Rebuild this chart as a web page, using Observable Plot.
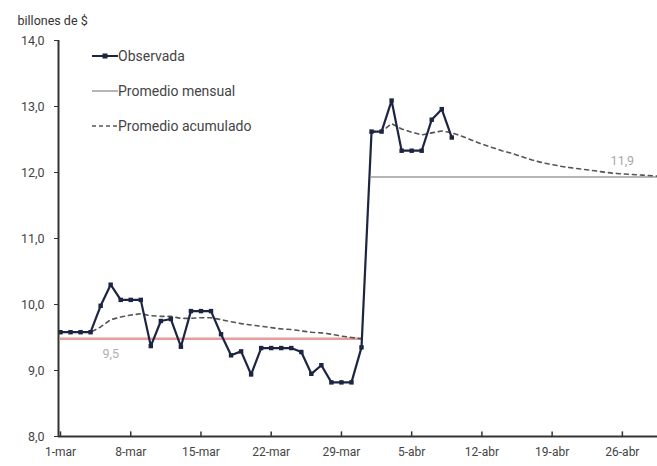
<!DOCTYPE html>
<html>
<head>
<meta charset="utf-8">
<script src="https://cdn.jsdelivr.net/npm/d3@7"></script>
<script src="https://cdn.jsdelivr.net/npm/@observablehq/plot@0.6"></script>
<style>
  html, body { margin: 0; padding: 0; background: #fff; }
  #wrap { position: relative; width: 657px; height: 466px; font-family: Roboto, "Open Sans", sans-serif; }
  .leg { position: absolute; left: 92px; display: flex; align-items: center; font-size: 14px; color: #444; }
  .leg svg { margin-right: 0px; }
</style>
</head>
<body>
<div id="wrap"></div>
<script>
// ---- data ----
const yearStart = [2021, 2, 1]; // 1-mar
const observedMar = [9.58, 9.58, 9.58, 9.58, 9.98, 10.30, 10.07, 10.07, 10.07, 9.37,
                     9.75, 9.78, 9.36, 9.90, 9.90, 9.90, 9.55, 9.23, 9.29, 8.94,
                     9.34, 9.34, 9.34, 9.34, 9.28, 8.95, 9.08, 8.82, 8.82, 8.82, 9.35];
const observedApr = [12.62, 12.62, 13.09, 12.33, 12.33, 12.33, 12.80, 12.96, 12.53];
const cumMar = [9.58, 9.58, 9.58, 9.58, 9.66, 9.77, 9.81, 9.84, 9.86, 9.83,
                9.82, 9.82, 9.79, 9.79, 9.80, 9.80, 9.77, 9.74, 9.71, 9.69,
                9.67, 9.65, 9.63, 9.62, 9.60, 9.58, 9.57, 9.55, 9.52, 9.50, 9.48];
const cumApr = [12.62, 12.62, 12.74, 12.66, 12.61, 12.57, 12.60, 12.63, 12.60, 12.55,
                12.49, 12.43, 12.38, 12.33, 12.29, 12.24, 12.19, 12.15, 12.12, 12.09,
                12.07, 12.05, 12.03, 12.01, 11.99, 11.98, 11.97, 11.96, 11.95, 11.94];
const monthlyMar = 9.48;
const monthlyApr = 11.93;
const monthlyLabels = ["9,5", "11,9"];
const yTicks = [8, 9, 10, 11, 12, 13, 14];
const xTickDays = [0, 7, 14, 21, 28, 35, 42, 49, 56];
const xTickLabels = ["1-mar", "8-mar", "15-mar", "22-mar", "29-mar", "5-abr", "12-abr", "19-abr", "26-abr"];
const yTitle = "billones de $";
const legendLabels = ["Observada", "Promedio mensual", "Promedio acumulado"];

// ---- helpers ----
const day = i => new Date(Date.UTC(yearStart[0], yearStart[1], yearStart[2] + i));
const aprOffset = 31;
const observed = [
  ...observedMar.map((v, i) => ({date: day(i), v})),
  ...observedApr.map((v, i) => ({date: day(aprOffset + i), v}))
];
const cumulative = [
  ...cumMar.map((v, i) => ({date: day(i), v, m: "mar"})),
  ...cumApr.map((v, i) => ({date: day(aprOffset + i), v, m: "abr"}))
];
const xTickDates = xTickDays.map(day);
const labelMap = new Map(xTickDates.map((d, i) => [+d, xTickLabels[i]]));
const fmt = d => d.toFixed(1).replace(".", ",");

const ink = "#1c2541";
const axisColor = "#333";

const chart = Plot.plot({
  width: 657,
  height: 466,
  marginLeft: 58,
  marginRight: 0,
  marginTop: 40,
  marginBottom: 30,
  x: {type: "utc", domain: [day(0), day(60)], range: [60, 662]},
  y: {domain: [8, 14], range: [436, 40]},
  style: {fontFamily: "Roboto, 'Open Sans', sans-serif", fontSize: "12px", color: axisColor, background: "#fff"},
  marks: [
    // monthly averages
    Plot.ruleY([{v: monthlyMar, x1: day(0), x2: day(30)}], {y: "v", x1: "x1", x2: "x2", stroke: "#e89c9c", strokeWidth: 2.5}),
    Plot.ruleY([{v: monthlyApr, x1: day(aprOffset), x2: day(60)}], {y: "v", x1: "x1", x2: "x2", stroke: "#b5b5b5", strokeWidth: 2}),
    Plot.text([{v: monthlyMar, d: day(5.9)}], {x: "d", y: "v", text: () => monthlyLabels[0], dy: 15, fill: "#b0b0b0", fontSize: 12.5}),
    Plot.text([{v: monthlyApr, d: day(56.4)}], {x: "d", y: "v", text: () => monthlyLabels[1], dy: -16, fill: "#a8a8a8", fontSize: 12.5}),
    // cumulative average
    Plot.line(cumulative, {x: "date", y: "v", z: "m", stroke: "#555", strokeWidth: 1.6, strokeDasharray: "4,4"}),
    // observed
    Plot.line(observed, {x: "date", y: "v", stroke: ink, strokeWidth: 2.2}),
    Plot.dot(observed, {x: "date", y: "v", r: 2.5, fill: ink, stroke: null, symbol: "square"}),
    // axes
    Plot.ruleY([8], {stroke: axisColor, strokeWidth: 2}),
    Plot.ruleX([day(0)], {dx: -2, y1: 8, y2: 14, stroke: axisColor, strokeWidth: 2}),
    Plot.ruleX(xTickDates, {y1: 8, y2: 8.07, stroke: axisColor, strokeWidth: 1.5}),
    Plot.axisY({ticks: yTicks, tickFormat: fmt, tickSize: 4, tickPadding: 10, label: null, fontSize: 12.5, fill: "#444"}),
    Plot.axisX({ticks: xTickDates, tickFormat: d => labelMap.get(+d), tickSize: 0, tickPadding: 11, label: null, fontSize: 12, fill: "#444"}),
    Plot.text([yTitle], {frameAnchor: "top-left", dx: -41, dy: -24, textAnchor: "start", fontSize: 12.5, fill: "#333"})
  ]
});

const wrap = document.getElementById("wrap");
wrap.appendChild(chart);

// legend (HTML overlay)
const legendTops = [48, 83, 118];
const legendSvgs = [
  `<svg width="26" height="12"><line x1="0" y1="6" x2="26" y2="6" stroke="${ink}" stroke-width="2"/><rect x="10.5" y="3.5" width="5" height="5" fill="${ink}"/></svg>`,
  `<svg width="26" height="12"><line x1="0" y1="6" x2="26" y2="6" stroke="#b5b5b5" stroke-width="2"/></svg>`,
  `<svg width="26" height="12"><line x1="0" y1="6" x2="26" y2="6" stroke="#555" stroke-width="1.6" stroke-dasharray="4,3"/></svg>`
];
legendLabels.forEach((lab, i) => {
  const div = document.createElement("div");
  div.className = "leg";
  div.style.top = legendTops[i] + "px";
  div.innerHTML = legendSvgs[i] + `<span>${lab}</span>`;
  wrap.appendChild(div);
});
</script>
</body>
</html>
